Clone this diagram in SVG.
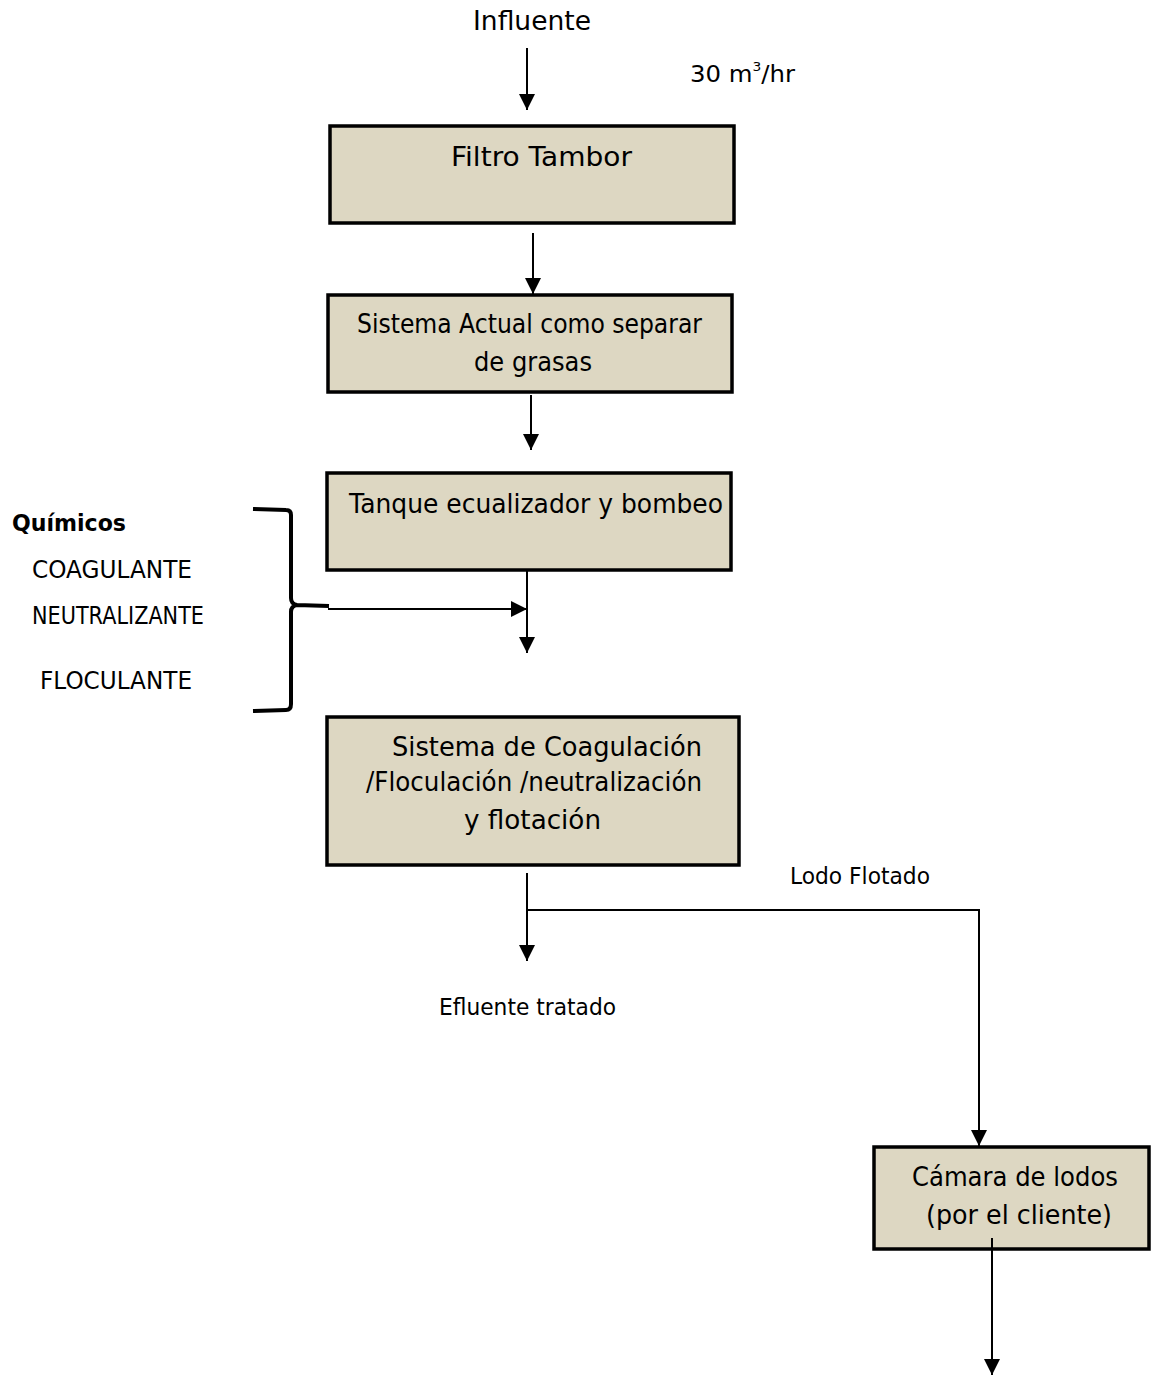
<svg xmlns="http://www.w3.org/2000/svg" width="1151" height="1375" viewBox="0 0 1151 1375">
<defs>
<style>
.box{fill:#ddd7c2;stroke:#000;stroke-width:3.5}
.t{font-family:"DejaVu Sans","Liberation Sans",sans-serif;fill:#000}
.ln{stroke:#000;stroke-width:2;fill:none}
</style>
<marker id="ah2" markerWidth="16" markerHeight="16" refX="16" refY="8" orient="auto" markerUnits="userSpaceOnUse" viewBox="0 0 16 16">
<path d="M0,0 L16,8 L0,16 z" fill="#000"/>
</marker>
</defs>
<rect width="1151" height="1375" fill="#fff"/>

<g id="labels">
<text class="t" x="532" y="30" font-size="26" text-anchor="middle" textLength="118" lengthAdjust="spacingAndGlyphs">Influente</text>
<text class="t" x="690" y="82" font-size="23" textLength="105" lengthAdjust="spacingAndGlyphs">30 m<tspan font-size="13" dy="-11">3</tspan><tspan dy="11">/hr</tspan></text>
<text class="t" x="12" y="531" font-size="23" font-weight="bold" textLength="114" lengthAdjust="spacingAndGlyphs">Químicos</text>
<text class="t" x="32" y="578" font-size="24" textLength="160" lengthAdjust="spacingAndGlyphs">COAGULANTE</text>
<text class="t" x="32" y="624" font-size="24" textLength="172" lengthAdjust="spacingAndGlyphs">NEUTRALIZANTE</text>
<text class="t" x="40" y="689" font-size="24" textLength="152" lengthAdjust="spacingAndGlyphs">FLOCULANTE</text>
<text class="t" x="790" y="884" font-size="23" textLength="140" lengthAdjust="spacingAndGlyphs">Lodo Flotado</text>
<text class="t" x="439" y="1015" font-size="23" textLength="177" lengthAdjust="spacingAndGlyphs">Efluente tratado</text>
</g>

<g id="node-filtro">
<rect class="box" x="330" y="126" width="404" height="97"/>
<text class="t" x="451" y="166" font-size="27" textLength="181" lengthAdjust="spacingAndGlyphs">Filtro Tambor</text>
</g>

<g id="node-sistema-actual">
<rect class="box" x="328" y="295" width="404" height="97"/>
<text class="t" x="357" y="333" font-size="26" textLength="345" lengthAdjust="spacingAndGlyphs">Sistema Actual como separar</text>
<text class="t" x="533" y="371" font-size="26" text-anchor="middle" textLength="118" lengthAdjust="spacingAndGlyphs">de grasas</text>
</g>

<g id="node-tanque">
<rect class="box" x="327" y="473" width="404" height="97"/>
<text class="t" x="349" y="513" font-size="26" textLength="374" lengthAdjust="spacingAndGlyphs">Tanque ecualizador y bombeo</text>
</g>

<g id="node-coag">
<rect class="box" x="327" y="717" width="412" height="148"/>
<text class="t" x="392" y="756" font-size="26" textLength="310" lengthAdjust="spacingAndGlyphs">Sistema de Coagulación</text>
<text class="t" x="366" y="791" font-size="26" textLength="336" lengthAdjust="spacingAndGlyphs">/Floculación /neutralización</text>
<text class="t" x="464" y="829" font-size="26" textLength="137" lengthAdjust="spacingAndGlyphs">y flotación</text>
</g>

<g id="node-camara">
<rect class="box" x="874" y="1147" width="275" height="102"/>
<text class="t" x="912" y="1186" font-size="26" textLength="206" lengthAdjust="spacingAndGlyphs">Cámara de lodos</text>
<text class="t" x="926" y="1224" font-size="26" textLength="186" lengthAdjust="spacingAndGlyphs">(por el cliente)</text>
</g>

<g id="connectors">
<line class="ln" x1="527" y1="48" x2="527" y2="110" marker-end="url(#ah2)"/>
<line class="ln" x1="533" y1="233" x2="533" y2="294" marker-end="url(#ah2)"/>
<line class="ln" x1="531" y1="395" x2="531" y2="450" marker-end="url(#ah2)"/>
<line class="ln" x1="527" y1="571" x2="527" y2="653" marker-end="url(#ah2)"/>
<line class="ln" x1="328" y1="609" x2="527" y2="609" marker-end="url(#ah2)"/>
<path d="M253,509 L286,510 Q291,510 291,515 L291,598 Q291,604 297,605 L329,606 M297,605 Q291,606 291,612 L291,704 Q291,710 286,710 L253,711" fill="none" stroke="#000" stroke-width="4"/>
<line class="ln" x1="527" y1="873" x2="527" y2="961" marker-end="url(#ah2)"/>
<polyline class="ln" points="527,910 979,910 979,1146" marker-end="url(#ah2)"/>
<line class="ln" x1="992" y1="1238" x2="992" y2="1375" marker-end="url(#ah2)"/>
</g>
</svg>
